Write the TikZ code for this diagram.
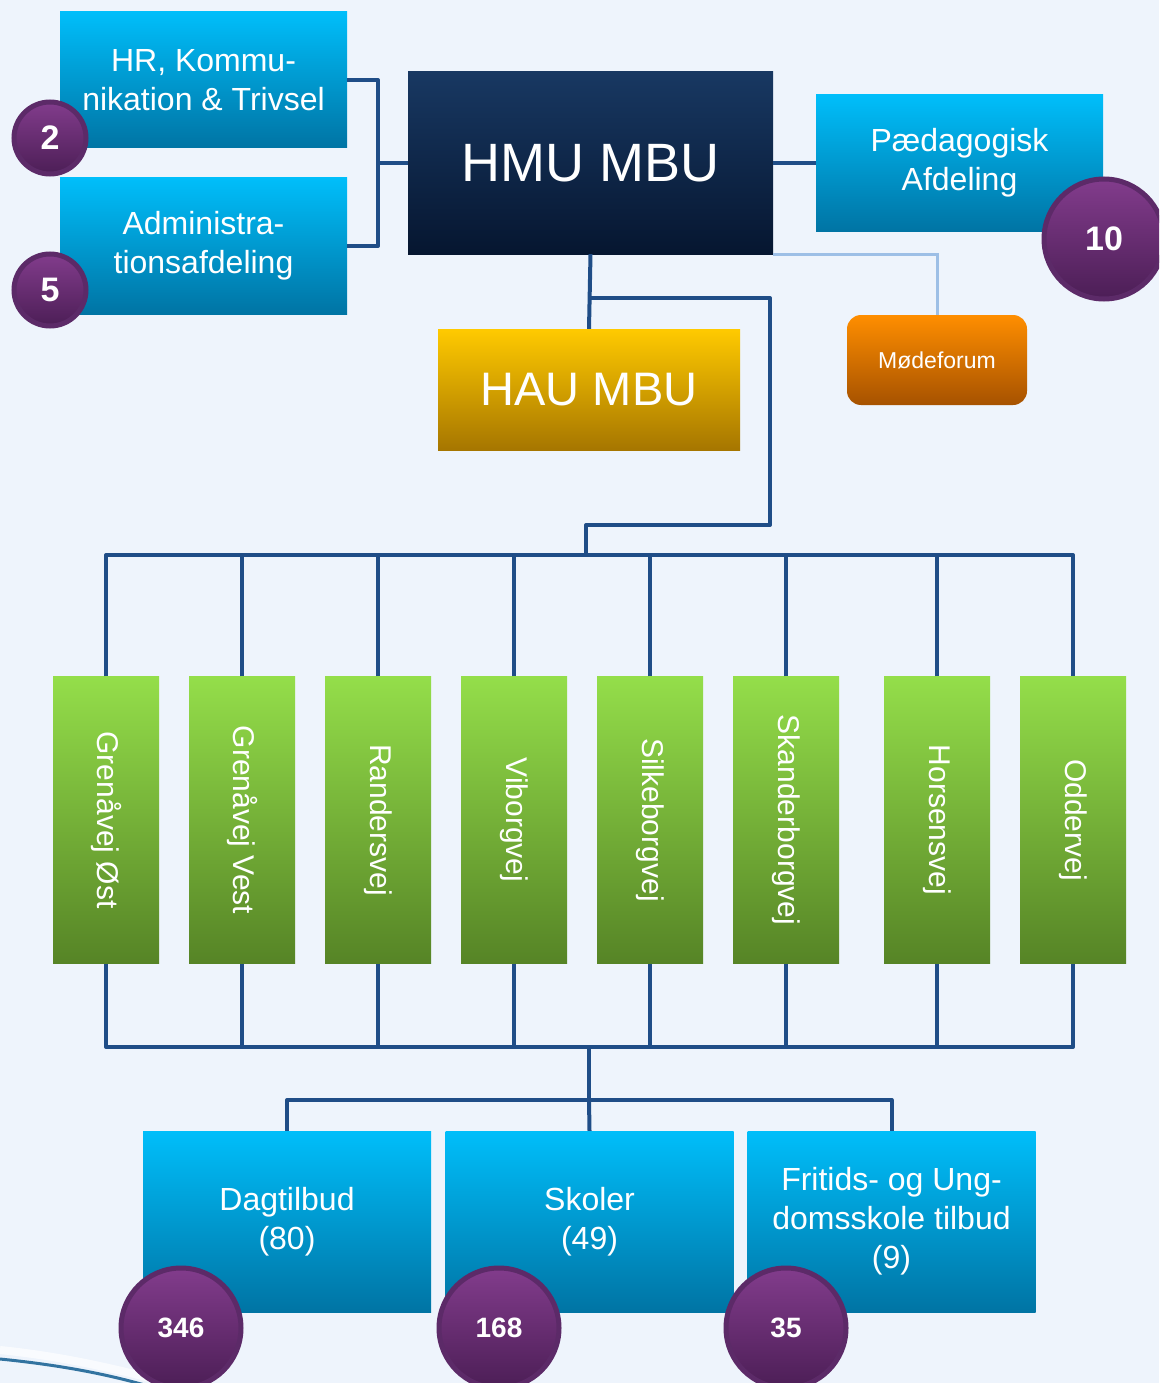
\documentclass[tikz,border=0pt]{standalone}
\usepackage{fontspec}
\setmainfont{Liberation Sans}
\usepackage{graphicx}

\definecolor{bgcol}{RGB}{238,244,252}
\definecolor{cyantop}{RGB}{0,190,250}
\definecolor{cyanbot}{RGB}{0,116,164}
\definecolor{navytop}{RGB}{24,56,98}
\definecolor{navybot}{RGB}{6,22,48}
\definecolor{goldtop}{RGB}{255,202,0}
\definecolor{goldbot}{RGB}{166,118,0}
\definecolor{orangetop}{RGB}{255,142,0}
\definecolor{orangebot}{RGB}{166,82,0}
\definecolor{greentop}{RGB}{148,222,74}
\definecolor{greenbot}{RGB}{86,132,38}
\definecolor{purptop}{RGB}{130,60,140}
\definecolor{purpbot}{RGB}{76,30,86}
\definecolor{purpring}{RGB}{92,42,104}
\definecolor{linecol}{RGB}{31,77,135}
\definecolor{lightline}{RGB}{157,191,230}
\definecolor{swoosh}{RGB}{50,115,160}

\tikzset{
  box/.style={rectangle, inner sep=0pt, align=center, text=white,
    top color=cyantop, bottom color=cyanbot,
    minimum width=287, minimum height=136,
    font=\fontsize{32}{39}\selectfont},
  road/.style={rectangle, inner sep=0pt, text=white,
    top color=greentop, bottom color=greenbot,
    minimum width=106, minimum height=287,
    font=\fontsize{30}{34}\selectfont},
  badge/.style={circle, inner sep=0pt, text=white, draw=purpring,
    line width=5, top color=purptop, bottom color=purpbot,
    font=\bfseries\fontsize{34}{40}\selectfont},
  conn/.style={draw=linecol, line width=4, line join=round}
}

\begin{document}
\begin{tikzpicture}[x=1pt, y=-1pt]
    \useasboundingbox (0,0) rectangle (1159,1383);
    \clip (0,0) rectangle (1159,1383);
    \fill[bgcol] (0,0) rectangle (1159,1383);
    \draw[white, line width=8, opacity=0.7] (0,1350) .. controls (50,1355) and (100,1365) .. (150,1378);
    \draw[swoosh, line width=3] (0,1359) .. controls (50,1364) and (100,1372) .. (148,1386);

    % Top level
    \node[rectangle, inner sep=0pt, text=white, top color=navytop, bottom color=navybot,
          minimum width=365, minimum height=182, font=\fontsize{54}{60}\selectfont]
          (hmu) at (590.5,163) {HMU MBU};
    \node[box] (hr) at (203.5,80) {HR, Kommu-\\nikation \& Trivsel};
    \node[box] (adm) at (203.5,246) {Administra-\\tionsafdeling};
    \node[box] (paed) at (959.5,163) {Pædagogisk\\Afdeling};
    \node[rectangle, rounded corners=14, inner sep=0pt, text=white,
          top color=orangetop, bottom color=orangebot,
          minimum width=180, minimum height=90, font=\fontsize{23}{28}\selectfont]
          (mode) at (937,360) {Mødeforum};
    \node[rectangle, inner sep=0pt, text=white, top color=goldtop, bottom color=goldbot,
          minimum width=302, minimum height=121, font=\fontsize{47}{54}\selectfont]
          (hau) at (589,389.5) {HAU MBU};

    % Roads
    \node[road] (go) at (106,820) {\rotatebox{-90}{Grenåvej Øst}};
    \node[road] (gv) at (242,820) {\rotatebox{-90}{Grenåvej Vest}};
    \node[road] (ra) at (378,820) {\rotatebox{-90}{Randersvej}};
    \node[road] (vi) at (514,820) {\rotatebox{-90}{Viborgvej}};
    \node[road] (si) at (650,820) {\rotatebox{-90}{Silkeborgvej}};
    \node[road] (sk) at (786,820) {\rotatebox{-90}{Skanderborgvej}};
    \node[road] (ho) at (937,820) {\rotatebox{-90}{Horsensvej}};
    \node[road] (od) at (1073,820) {\rotatebox{-90}{Oddervej}};

    % Bottom level
    \node[box, minimum width=288, minimum height=181] (dag) at (287,1221.5) {Dagtilbud\\(80)};
    \node[box, minimum width=288, minimum height=181] (sko) at (589.5,1221.5) {Skoler\\(49)};
    \node[box, minimum width=288, minimum height=181] (fri) at (891.5,1221.5) {Fritids- og Ung-\\domsskole tilbud\\(9)};

    % Junctions
    \coordinate (hrb) at (378,163);
    \coordinate (j1) at (591,298);
    \coordinate (k) at (770,525);
    \coordinate (bus) at (586,555);
    \coordinate (bus2) at (589,1047);
    \coordinate (bus3) at (589,1100);

    % Connectors
    \draw[conn] (hr.east) -| (hrb) -- (hmu.west);
    \draw[conn] (adm.east) -| (hrb);
    \draw[conn] (hmu.east) -- (paed.west);
    \draw[draw=lightline, line width=3] (hmu.south east) -| (mode.north);
    \draw[conn] (hmu.south) -- (hau.north);
    \draw[conn] (j1) -| (k) -| (bus);
    \draw[conn] (go.north) |- (bus) -| (od.north);
    \draw[conn] (gv.north) -- (gv.north |- bus);
    \draw[conn] (ra.north) -- (ra.north |- bus);
    \draw[conn] (vi.north) -- (vi.north |- bus);
    \draw[conn] (si.north) -- (si.north |- bus);
    \draw[conn] (sk.north) -- (sk.north |- bus);
    \draw[conn] (ho.north) -- (ho.north |- bus);
    \draw[conn] (go.south) |- (bus2) -| (od.south);
    \draw[conn] (gv.south) -- (gv.south |- bus2);
    \draw[conn] (ra.south) -- (ra.south |- bus2);
    \draw[conn] (vi.south) -- (vi.south |- bus2);
    \draw[conn] (si.south) -- (si.south |- bus2);
    \draw[conn] (sk.south) -- (sk.south |- bus2);
    \draw[conn] (ho.south) -- (ho.south |- bus2);
    \draw[conn] (bus2) -- (bus3);
    \draw[conn] (dag.north) |- (bus3) -| (fri.north);
    \draw[conn] (sko.north) -- (bus3);

    % Badges
    \node[badge, minimum size=72] (c2) at (50,138) {2};
    \node[badge, minimum size=72] (c5) at (50,290) {5};
    \node[badge, minimum size=120] (c10) at (1104,239) {10};
    \node[badge, minimum size=120, font=\bfseries\fontsize{28}{34}\selectfont] (c346) at (181,1328) {346};
    \node[badge, minimum size=120, font=\bfseries\fontsize{28}{34}\selectfont] (c168) at (499,1328) {168};
    \node[badge, minimum size=120, font=\bfseries\fontsize{28}{34}\selectfont] (c35) at (786,1328) {35};
\end{tikzpicture}
\end{document}
